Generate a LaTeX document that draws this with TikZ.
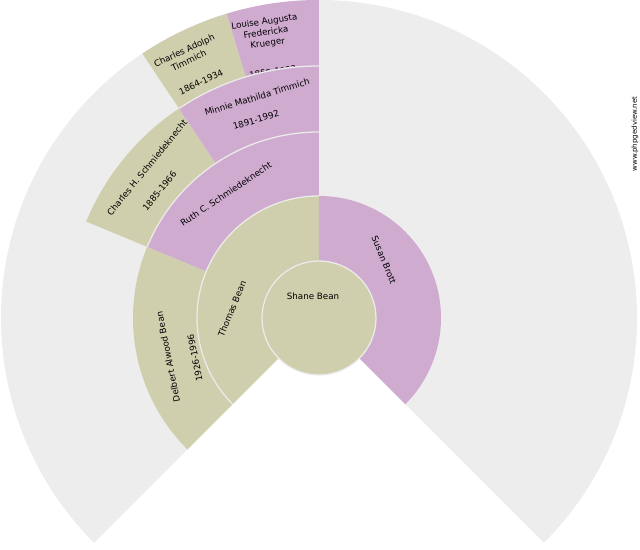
\documentclass[tikz,border=0pt]{standalone}
\usepackage{fontspec}
\setmainfont{DejaVu Sans}
\usetikzlibrary{positioning}

\definecolor{fantan}{RGB}{207,207,173}
\definecolor{fanpink}{RGB}{208,171,208}
\definecolor{fangray}{RGB}{237,237,237}

% ring sector: inner radius, outer radius, start angle, end angle, colour
\newcommand{\fansector}[5]{%
  \fill[#5] (#3:#1) arc[start angle=#3, end angle=#4, radius=#1]
    -- (#4:#2) arc[start angle=#4, end angle=#3, radius=#2] -- cycle;}

\begin{document}
\begin{tikzpicture}[x=0.025cm, y=0.025cm,
    fanlabel/.style={font=\fontsize{6.2}{7.8}\selectfont, inner sep=0pt, align=center},
    fansep/.style={draw=white!92!black, line width=0.9pt}]
    \useasboundingbox (-319,-232) rectangle (321,318);

    % Background fan
    \fill[fangray] (0,0) -- (-45:318) arc[start angle=-45, end angle=225, radius=318] -- cycle;

    % Generation 4
    \fansector{252}{318}{106.875}{123.75}{fantan}
    \fansector{252}{318}{90}{106.875}{fanpink}
    \node[fanlabel, rotate=25.3] (charlesadolph) at (-132.5,262.5) {Charles Adolph\\Timmich};
    \node[fanlabel, rotate=25.3] (charlesadolphdates) at (-118,236) {1864-1934};
    \node[fanlabel, rotate=8.4] (louise) at (-53,285) {Louise Augusta\\Fredericka\\Krueger};
    \node[fanlabel, rotate=8.4] (louisedates) at (-46,246) {1855-1933};

    % Generation 3
    \fansector{186}{252}{123.75}{157.5}{fantan}
    \fansector{186}{252}{90}{123.75}{fanpink}
    \node[fanlabel, rotate=50.6] (charlesh) at (-172,150.5) {Charles H. Schmiedeknecht};
    \node[fanlabel, rotate=50.6] (charleshdates) at (-159.5,127) {1885-1966};
    \node[fanlabel, rotate=16.9] (minnie) at (-62,221) {Minnie Mathilda Timmich};
    \node[fanlabel, rotate=16.9] (minniedates) at (-63,198) {1891-1992};

    % Generation 2
    \fansector{122}{186}{157.5}{225}{fantan}
    \fansector{122}{186}{90}{157.5}{fanpink}
    \node[fanlabel, rotate=101.25] (delbert) at (-151,-39) {Delbert Alwood Bean};
    \node[fanlabel, rotate=101.25] (delbertdates) at (-124,-40) {1926-1996};
    \node[fanlabel, rotate=33.75] (ruth) at (-93,124) {Ruth C. Schmiedeknecht};

    % Generation 1
    \fansector{57}{122}{90}{225}{fantan}
    \fansector{57}{122}{-45}{90}{fanpink}
    \node[fanlabel, rotate=67.5] (thomas) at (-87,9) {Thomas Bean};
    \node[fanlabel, rotate=-67.5] (susan) at (65,58) {Susan Brott};

    % Root person
    \fill[fantan] (0,0) circle[radius=57];
    \node[fanlabel] (shane) at (-6,22) {Shane Bean};

    % Separators between the rings
    \draw[fansep] (0,0) circle[radius=57];
    \draw[fansep] (90:122) arc[start angle=90, end angle=225, radius=122];
    \draw[fansep] (90:186) arc[start angle=90, end angle=157.5, radius=186];
    \draw[fansep] (90:252) arc[start angle=90, end angle=123.75, radius=252];

    % Watermark
    \node[font=\fontsize{5}{6}\selectfont, rotate=90, inner sep=0pt] (watermark) at (316,184) {www.phpgedview.net};
\end{tikzpicture}
\end{document}
